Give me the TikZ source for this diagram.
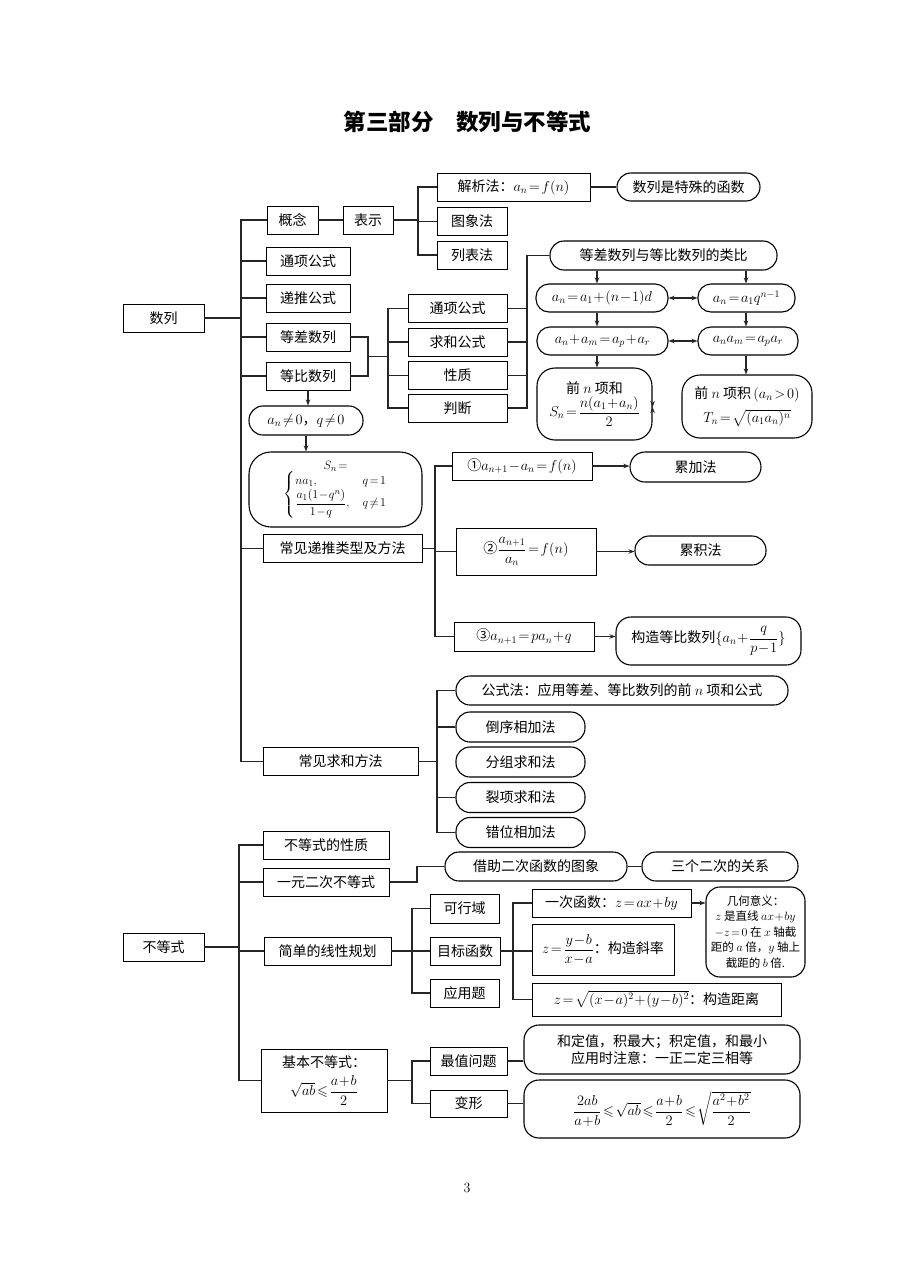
\documentclass[tikz,border=0pt]{standalone}
\usepackage{amsmath,amssymb}
\usepackage{fontspec}
\newfontfamily\cjk{Noto Sans CJK SC}
\usetikzlibrary{arrows.meta,calc}
\newcommand{\fs}{\fontsize{14}{17}\selectfont}
\newcommand{\fss}{\fontsize{11.5}{15.5}\selectfont}
\medmuskip=1mu plus 1mu
\thickmuskip=2mu plus 1mu
\begin{document}
\begin{tikzpicture}[x=1pt,y=-1pt,
  box/.style={draw=black, line width=0.7pt, font=\cjk\fs, inner sep=1pt, align=center, minimum height=28},
  rbox/.style={box, line width=1.1pt, rounded corners=13pt},
  con/.style={line width=1.1pt, draw=black!85},
  arr/.style={con, -{Stealth[length=6pt,width=4.5pt]}},
  darr/.style={con, {Stealth[length=6pt,width=4.5pt]}-{Stealth[length=6pt,width=4.5pt]}}]
\useasboundingbox[fill=white] (0,0) rectangle (920,1274);

% title
\node[font=\cjk\bfseries\fontsize{22.5}{26}\selectfont] (title) at (467.5,122) {第三部分\hspace{1em}数列与不等式};

% ---------- 数列 ----------
\node[box, minimum width=81] (sl) at (163.5,318) {数列};
\node[box, minimum width=51] (gn) at (292.5,220) {概念};
\node[box, minimum width=50] (bs) at (368,220) {表示};
\node[box, minimum width=153] (jx) at (513.5,187) {解析法：$a_n=f(n)$};
\node[box, minimum width=70] (tx) at (472,221.5) {图象法};
\node[box, minimum width=70] (lb) at (472,255) {列表法};
\node[rbox, minimum width=143, rounded corners=14pt] (ts) at (688.5,187) {数列是特殊的函数};

\node[box, minimum width=84] (tg) at (308,261) {通项公式};
\node[box, minimum width=84] (dt) at (308,298) {递推公式};
\node[box, minimum width=84] (dc) at (308,337) {等差数列};
\node[box, minimum width=84] (db) at (308,376) {等比数列};

\node[box, minimum width=99] (tg2) at (457.5,308.5) {通项公式};
\node[box, minimum width=99] (qh) at (457.5,342) {求和公式};
\node[box, minimum width=99] (xz) at (457.5,375.5) {性质};
\node[box, minimum width=99] (pd) at (457.5,408) {判断};

\node[rbox, minimum width=227, minimum height=29, rounded corners=14pt] (lbi) at (663.5,255.5) {等差数列与等比数列的类比};
\node[rbox, minimum width=132] (r1l) at (602,298) {$a_n=a_1+(n-1)d$};
\node[rbox, minimum width=97] (r1r) at (746.5,298) {$a_n=a_1q^{n-1}$};
\node[rbox, minimum width=131] (r2l) at (602.5,341) {$a_n+a_m=a_p+a_r$};
\node[rbox, minimum width=100] (r2r) at (748,341) {$a_na_m=a_pa_r$};
\node[rbox, minimum width=115, minimum height=72, rounded corners=18pt] (r3l) at (594.5,404) {前 $n$ 项和\\[1pt]$S_n=\dfrac{n(a_1+a_n)}{2}$};
\node[rbox, minimum width=130, minimum height=63, rounded corners=18pt] (r3r) at (747,406.5) {前 $n$ 项积\,$(a_n>0)$\\[7pt]$T_n=\sqrt{(a_1a_n)^n}$};

\node[rbox, minimum width=114, minimum height=29, rounded corners=14pt] (an) at (306,420.5) {$a_n\neq0$，$q\neq0$};
\node[rbox, minimum width=173, minimum height=75, rounded corners=22pt, font=\cjk\fontsize{13}{15}\selectfont] (sn) at (335.5,489.5) {$S_n=$\\[-1pt]$\begin{cases} na_1, & q=1\\ \dfrac{a_1(1-q^n)}{1-q}, & q\neq1\end{cases}$};

\node[box, minimum width=159] (dt2) at (342.5,548.5) {常见递推类型及方法};
\node[box, minimum width=140] (c1) at (522,466) {①$a_{n+1}-a_n=f(n)$};
\node[box, minimum width=140, minimum height=47] (c2) at (526,551.5) {②$\dfrac{a_{n+1}}{a_n}=f(n)$};
\node[box, minimum width=140, minimum height=29] (c3) at (524,636.5) {③$a_{n+1}=pa_n+q$};
\node[rbox, minimum width=131, minimum height=30, rounded corners=15pt] (lj) at (695.5,467) {累加法};
\node[rbox, minimum width=131, minimum height=29, rounded corners=14pt] (lji) at (700.5,550.5) {累积法};
\node[rbox, minimum width=185, minimum height=48, rounded corners=15pt] (gz) at (708.5,641) {构造等比数列$\{a_n+\dfrac{q}{p-1}\}$};

\node[box, minimum width=155] (qhf) at (340.5,761.5) {常见求和方法};
\node[rbox, minimum width=332, minimum height=29, rounded corners=14pt] (gs) at (622,690.5) {公式法：应用等差、等比数列的前 $n$ 项和公式};
\node[rbox, minimum width=129, minimum height=30, rounded corners=14pt] (dx) at (520.5,727) {倒序相加法};
\node[rbox, minimum width=129, minimum height=30, rounded corners=14pt] (fz) at (520.5,762) {分组求和法};
\node[rbox, minimum width=129, minimum height=30, rounded corners=14pt] (lx) at (520.5,797.5) {裂项求和法};
\node[rbox, minimum width=129, minimum height=30, rounded corners=14pt] (cw) at (520.5,832.5) {错位相加法};

% connectors 数列
\coordinate (T1) at (241,220);
\draw[con] (sl.east) -- (sl.east -| T1);
\draw[con] (gn.west) -- (T1) -- (qhf.west -| T1) -- (qhf.west);
\draw[con] (tg.west) -- (tg.west -| T1);
\draw[con] (dt.west) -- (dt.west -| T1);
\draw[con] (dc.west) -- (dc.west -| T1);
\draw[con] (db.west) -- (db.west -| T1);
\draw[con] (dt2.west) -- (dt2.west -| T1);

\draw[con] (gn) -- (bs);
\coordinate (T2) at (418,187);
\draw[con] (bs.east) -- (bs.east -| T2);
\draw[con] (jx.west) -| (lb.west -| T2) -- (lb.west);
\draw[con] (tx.west) -- (tx.west -| T2);
\draw[con] (jx) -- (ts);

\coordinate (J1) at (368,356.5);
\coordinate (T3) at (388,308.5);
\draw[con] (dc.east) -| (J1) |- (db.east);
\draw[con] (J1) -- (J1 -| T3);
\draw[con] (tg2.west) -| (pd.west -| T3) -- (pd.west);
\draw[con] (qh.west) -- (qh.west -| T3);
\draw[con] (xz.west) -- (xz.west -| T3);

\coordinate (T4) at (527,255.5);
\draw[con] (lbi.west) -| (pd.east -| T4) -- (pd.east);
\draw[con] (tg2.east) -- (tg2.east -| T4);
\draw[con] (qh.east) -- (qh.east -| T4);
\draw[con] (xz.east) -- (xz.east -| T4);

\coordinate (AL) at (597,0);
\coordinate (AR) at (746,0);
\draw[arr] (lbi.south -| AL) -- (r1l.north -| AL);
\draw[arr] (lbi.south -| AR) -- (r1r.north -| AR);
\draw[arr] (r1l.south -| AL) -- (r2l.north -| AL);
\draw[arr] (r1r.south -| AR) -- (r2r.north -| AR);
\draw[arr] (r2l.south -| AL) -- (r3l.north -| AL);
\draw[arr] (r2r.south -| AR) -- (r3r.north -| AR);
\draw[darr] (r1l.east) -- (r1l.east -| r1r.west);
\draw[darr] (r2l.east) -- (r2l.east -| r2r.west);
\draw[darr] ($(r3l.east)+(0,3)$) -- ($(r3l.east)+(0,3)$ -| r3r.west);

\draw[arr] (db.south) -- (db.south |- an.north);
\draw[arr] (an.south) -- (an.south |- sn.north);

\coordinate (T5) at (435,466);
\draw[con] (dt2.east) -- (dt2.east -| T5);
\draw[con] (c1.west) -| (c3.west -| T5) -- (c3.west);
\draw[con] (c2.west) -- (c2.west -| T5);
\draw[arr] (c1.east) -- (c1.east -| lj.west);
\draw[arr] (c2.east) -- (c2.east -| lji.west);
\draw[arr] (c3.east) -- (c3.east -| gz.west);

\coordinate (T6) at (437,690.5);
\draw[con] (qhf.east) -- (qhf.east -| T6);
\draw[con] (gs.west) -| (cw.west -| T6) -- (cw.west);
\draw[con] (dx.west) -- (dx.west -| T6);
\draw[con] (lx.west) -- (lx.west -| T6);

% ---------- 不等式 ----------
\node[box, minimum width=81] (bd) at (163.5,947) {不等式};
\node[box, minimum width=126] (bx1) at (326,845) {不等式的性质};
\node[box, minimum width=126] (yy) at (326,882) {一元二次不等式};
\node[rbox, minimum width=182, minimum height=29, rounded corners=14pt] (jz) at (536,866.5) {借助二次函数的图象};
\node[rbox, minimum width=156, minimum height=29, rounded corners=14pt] (sg) at (720,866.5) {三个二次的关系};
\node[box, minimum width=127] (jd) at (327.5,951) {简单的线性规划};
\node[box, minimum width=69, minimum height=29] (kx) at (464.5,908.5) {可行域};
\node[box, minimum width=70] (mb) at (465,951) {目标函数};
\node[box, minimum width=69] (yt) at (464.5,993) {应用题};
\node[box, minimum width=159] (yc) at (611.5,903) {一次函数：$z=ax+by$};
\node[rbox, minimum width=99, minimum height=90, rounded corners=14pt, font=\cjk\fss] (jh) at (755.5,932) {几何意义：\\$z$ 是直线 $ax+by$\\$-z=0$ 在 $x$ 轴截\\距的 $a$ 倍，$y$ 轴上\\截距的 $b$ 倍.};
\node[box, minimum width=142, minimum height=51] (xl) at (603,949.5) {$z=\dfrac{y-b}{x-a}$：构造斜率};
\node[box, minimum width=249, minimum height=33] (jl) at (656.5,999.5) {$z=\sqrt{(x-a)^2+(y-b)^2}$：构造距离};
\node[box, minimum width=126, minimum height=63] (jb) at (324,1080.5) {基本不等式：\\[6pt]$\sqrt{ab}\leqslant\dfrac{a+b}{2}$};
\node[box, minimum width=77] (zz) at (468.5,1061) {最值问题};
\node[box, minimum width=77, minimum height=27] (bx) at (468.5,1103.5) {变形};
\node[rbox, minimum width=276, minimum height=49, rounded corners=15pt] (hd) at (662,1049.5) {和定值，积最大；积定值，和最小\\应用时注意：一正二定三相等};
\node[rbox, minimum width=276, minimum height=58, rounded corners=15pt] (bxf) at (662,1109) {$\dfrac{2ab}{a+b}\leqslant\sqrt{ab}\leqslant\dfrac{a+b}{2}\leqslant\sqrt{\dfrac{a^2+b^2}{2}}$};

\coordinate (T7) at (239,845);
\draw[con] (bd.east) -- (bd.east -| T7);
\draw[con] (bx1.west) -| (jb.west -| T7) -- (jb.west);
\draw[con] (yy.west) -- (yy.west -| T7);
\draw[con] (jd.west) -- (jd.west -| T7);

\coordinate (K1) at (417,0);
\draw[con] (yy.east) -- (yy.east -| K1) |- (jz.west);
\draw[con] (jz) -- (sg);

\coordinate (T8) at (412,908.5);
\draw[con] (jd.east) -- (jd.east -| T8);
\draw[con] (kx.west) -| (yt.west -| T8) -- (yt.west);
\draw[con] (mb.west) -- (mb.west -| T8);

\coordinate (T9) at (513,903);
\draw[con] (mb.east) -- (mb.east -| xl.west);
\draw[con] (yc.west) -| (jl.west -| T9) -- (jl.west);
\draw[arr] (yc.east) -- (yc.east -| jh.west);

\coordinate (T10) at (412,1061);
\draw[con] (jb.east) -- (jb.east -| T10);
\draw[con] (zz.west) -| (bx.west -| T10) -- (bx.west);
\draw[con] (zz.east) -- (zz.east -| hd.west);
\draw[con] (bx.east) -- (bx.east -| bxf.west);

\node[font=\fontsize{14}{16}\selectfont] (pg) at (467,1188) {3};
\end{tikzpicture}
\end{document}
